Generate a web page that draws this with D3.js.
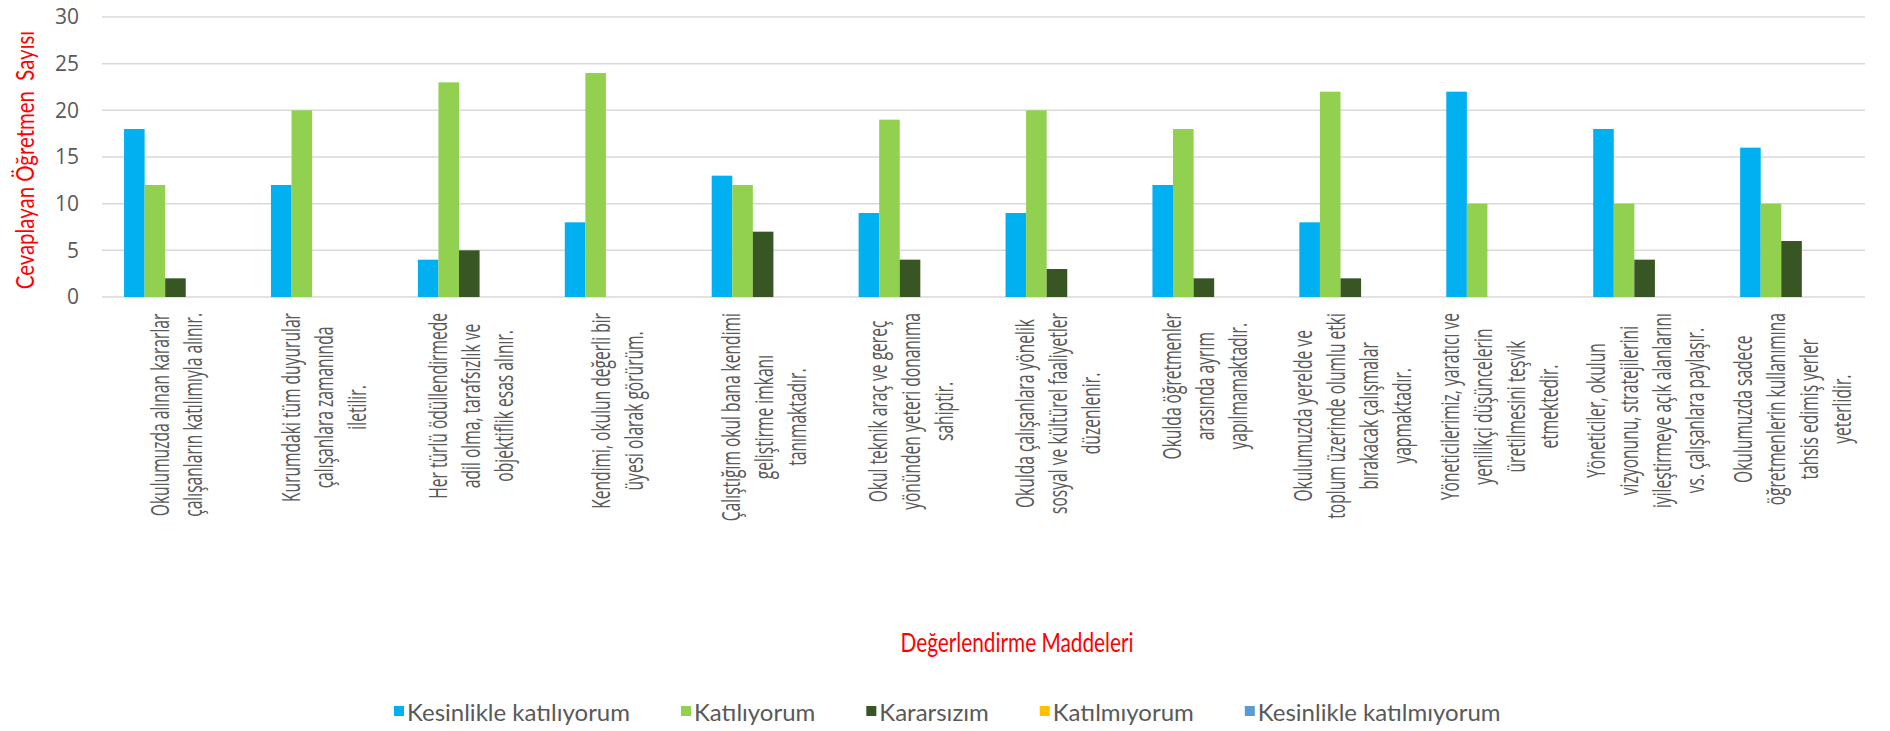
<!DOCTYPE html>
<html lang="tr">
<head>
<meta charset="utf-8">
<script src="https://d3js.org/d3.v7.min.js"></script>
<style>
  body { margin: 0; background: #fff; }
  svg { display: block; }
</style>
</head>
<body>
<script>
// chart data
var categories = [
  ["Okulumuzda alınan kararlar", "çalışanların katılımıyla alınır."],
  ["Kurumdaki tüm duyurular", "çalışanlara zamanında", "iletilir."],
  ["Her türlü ödüllendirmede", "adil olma, tarafsızlık ve", "objektiflik esas alınır."],
  ["Kendimi, okulun değerli bir", "üyesi olarak görürüm."],
  ["Çalıştığım okul bana kendimi", "geliştirme imkanı", "tanımaktadır."],
  ["Okul teknik araç ve gereç", "yönünden yeteri donanıma", "sahiptir."],
  ["Okulda çalışanlara yönelik", "sosyal ve kültürel faaliyetler", "düzenlenir."],
  ["Okulda öğretmenler", "arasında ayrım", "yapılmamaktadır."],
  ["Okulumuzda yerelde ve", "toplum üzerinde olumlu etki", "bırakacak çalışmalar", "yapmaktadır."],
  ["Yöneticilerimiz, yaratıcı ve", "yenilikçi düşüncelerin", "üretilmesini teşvik", "etmektedir."],
  ["Yöneticiler, okulun", "vizyonunu, stratejilerini", "iyileştirmeye açık alanlarını", "vs. çalışanlara paylaşır."],
  ["Okulumuzda sadece", "öğretmenlerin kullanımına", "tahsis edimiş yerler", "yeterlidir."]
];
var seriesNames = ["Kesinlikle katılıyorum", "Katılıyorum", "Kararsızım", "Katılmıyorum", "Kesinlikle katılmıyorum"];
var seriesColors = ["#00B0F0", "#92D050", "#375623", "#FFC000", "#5B9BD5"];
var kesinlikleKatiliyorum = [18, 12, 4, 8, 13, 9, 9, 12, 8, 22, 18, 16];
var katiliyorum = [12, 20, 23, 24, 12, 19, 20, 18, 22, 10, 10, 10];
var kararsizim = [2, 0, 5, 0, 7, 4, 3, 2, 2, 0, 4, 6];
var katilmiyorum = [0, 0, 0, 0, 0, 0, 0, 0, 0, 0, 0, 0];
var kesinlikleKatilmiyorum = [0, 0, 0, 0, 0, 0, 0, 0, 0, 0, 0, 0];
var yTicks = [0, 5, 10, 15, 20, 25, 30];
var yTitle = "Cevaplayan Öğretmen  Sayısı";
var xTitle = "Değerlendirme Maddeleri";

var seriesValues = [kesinlikleKatiliyorum, katiliyorum, kararsizim, katilmiyorum, kesinlikleKatilmiyorum];

var width = 1890, height = 731;
var plotLeft = 102, plotRight = 1865, plotTop = 17, plotBottom = 297;

var svg = d3.select("body").append("svg")
  .attr("width", width)
  .attr("height", height);

var x0 = d3.scaleBand()
  .domain(d3.range(categories.length))
  .range([plotLeft, plotRight])
  .paddingInner(0.3)
  .paddingOuter(0.15);

var x1 = d3.scaleBand()
  .domain(d3.range(seriesNames.length))
  .range([0, x0.bandwidth()]);

var y = d3.scaleLinear().domain([0, 30]).range([plotBottom, plotTop]);

// gridlines
svg.append("g")
  .selectAll("line")
  .data(yTicks)
  .join("line")
  .attr("x1", plotLeft)
  .attr("x2", plotRight)
  .attr("y1", function(d) { return y(d); })
  .attr("y2", function(d) { return y(d); })
  .attr("stroke", "#D9D9D9")
  .attr("stroke-width", 1.5);

// y tick labels
svg.append("g")
  .selectAll("text")
  .data(yTicks)
  .join("text")
  .attr("x", 79)
  .attr("y", function(d) { return y(d); })
  .attr("dy", "0.35em")
  .attr("text-anchor", "end")
  .attr("font-family", "'Open Sans', sans-serif")
  .attr("font-size", 21)
  .attr("fill", "#595959")
  .text(function(d) { return d; });

// bars
var groups = svg.append("g")
  .selectAll("g")
  .data(categories)
  .join("g")
  .attr("transform", function(d, i) { return "translate(" + x0(i) + ",0)"; });

groups.selectAll("rect")
  .data(function(d, i) {
    return seriesValues.map(function(vals, s) { return {s: s, v: vals[i]}; });
  })
  .join("rect")
  .attr("x", function(d) { return x1(d.s); })
  .attr("width", x1.bandwidth())
  .attr("y", function(d) { return y(d.v); })
  .attr("height", function(d) { return y(0) - y(d.v); })
  .attr("fill", function(d) { return seriesColors[d.s]; });

// category labels, rotated and condensed like the original
var labelTop = 313, lineGap = 33, squeeze = 0.6;
svg.append("g")
  .selectAll("g")
  .data(categories)
  .join("g")
  .attr("transform", function(d, i) {
    return "translate(" + (x0(i) + x0.bandwidth() / 2) + "," + labelTop + ")";
  })
  .each(function(lines) {
    var g = d3.select(this);
    var n = lines.length;
    var texts = g.selectAll("text")
      .data(lines)
      .join("text")
      .attr("font-family", "'Open Sans', sans-serif")
      .attr("font-size", 26)
      .attr("fill", "#595959")
      .attr("text-anchor", "middle")
      .attr("dominant-baseline", "central")
      .text(function(d) { return d; });
    var maxLen = 0;
    texts.each(function() { maxLen = Math.max(maxLen, this.getComputedTextLength()); });
    texts.attr("transform", function(d, j) {
      return "translate(" + ((j - (n - 1) / 2) * lineGap) + "," + (maxLen * squeeze / 2) + ") rotate(-90) scale(" + squeeze + ",1)";
    });
  });

// axis titles
svg.append("text")
  .attr("transform", "translate(24,160) rotate(-90) scale(0.8,1)")
  .attr("text-anchor", "middle")
  .attr("dominant-baseline", "central")
  .attr("font-family", "Lato, sans-serif")
  .attr("font-size", 25.5)
  .attr("fill", "#FF0000")
  .style("white-space", "pre")
  .text(yTitle);

svg.append("text")
  .attr("transform", "translate(1017,642) scale(0.8,1)")
  .attr("text-anchor", "middle")
  .attr("dominant-baseline", "central")
  .attr("font-family", "Lato, sans-serif")
  .attr("font-size", 26)
  .attr("fill", "#FF0000")
  .text(xTitle);

// legend
var legend = svg.append("g").attr("transform", "translate(0,711)");
var legX = 394, legSq = 10;
seriesNames.forEach(function(name, s) {
  var item = legend.append("g").attr("transform", "translate(" + legX + ",0)");
  item.append("rect")
    .attr("x", 0)
    .attr("y", -legSq / 2)
    .attr("width", legSq)
    .attr("height", legSq)
    .attr("fill", seriesColors[s]);
  var t = item.append("text")
    .attr("x", legSq + 3)
    .attr("dominant-baseline", "central")
    .attr("font-family", "Lato, sans-serif")
    .attr("font-size", 24)
    .attr("fill", "#595959")
    .text(name);
  legX += legSq + 3 + t.node().getComputedTextLength() + 51;
});
</script>
</body>
</html>
